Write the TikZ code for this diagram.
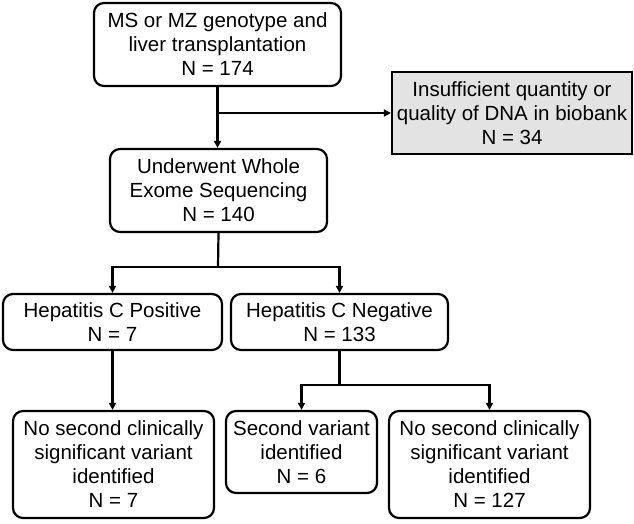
\documentclass[tikz,border=0pt]{standalone}
\usepackage{fontspec}
\setmainfont{Liberation Sans}
\usetikzlibrary{arrows.meta}
\begin{document}
\begin{tikzpicture}[x=1pt,y=1pt,
  every node/.style={font=\fontsize{20.5}{24}\selectfont, align=center, inner sep=2pt},
  rbox/.style={draw, line width=2.2pt, rounded corners=10pt},
  gbox/.style={draw, line width=2.2pt, fill=gray!22},
  conn/.style={line width=2.2pt},
  arr/.style={conn, -{Triangle[length=7pt,width=7pt]}}]
\useasboundingbox (0,0) rectangle (634,-523);
\node[rbox, minimum width=247pt, minimum height=83pt] (b1) at (217.5,-44.5)
  {MS or MZ genotype and\\liver transplantation\\N = 174};
\node[gbox, minimum width=240pt, minimum height=82pt] (gr) at (512,-113)
  {Insufficient quantity or\\quality of DNA in biobank\\N = 34};
\node[rbox, minimum width=217pt, minimum height=83pt] (b2) at (218.5,-190.5)
  {Underwent Whole\\Exome Sequencing\\N = 140};
\node[rbox, minimum width=219pt, minimum height=56pt] (hp) at (112.5,-322)
  {Hepatitis C Positive\\N = 7};
\node[rbox, minimum width=217pt, minimum height=56pt] (hn) at (339.5,-322)
  {Hepatitis C Negative\\N = 133};
\node[rbox, minimum width=201pt, minimum height=107pt] (c1) at (113.5,-464.5)
  {No second clinically\\significant variant\\identified\\N = 7};
\node[rbox, minimum width=151pt, minimum height=82pt] (c2) at (301.5,-452)
  {Second variant\\identified\\N = 6};
\node[rbox, minimum width=201pt, minimum height=107pt] (c3) at (489.5,-464.5)
  {No second clinically\\significant variant\\identified\\N = 127};
% connectors
\draw[arr] (b1.south) -- (b1.south |- b2.north);
\draw[arr] (b1.south |- gr.west) -- (gr.west);
\coordinate (j1) at (218,-267);
\draw[conn] (b2.south) -- (j1);
\draw[arr] (j1) -| (hp.north);
\draw[arr] (j1) -| (hn.north);
\draw[arr] (hp.south) -- (hp.south |- c1.north);
\coordinate (j2) at (339.5,-385);
\draw[conn] (hn.south) -- (j2);
\draw[arr] (j2) -| (c2.north);
\draw[arr] (j2) -| (c3.north);
\end{tikzpicture}
\end{document}
